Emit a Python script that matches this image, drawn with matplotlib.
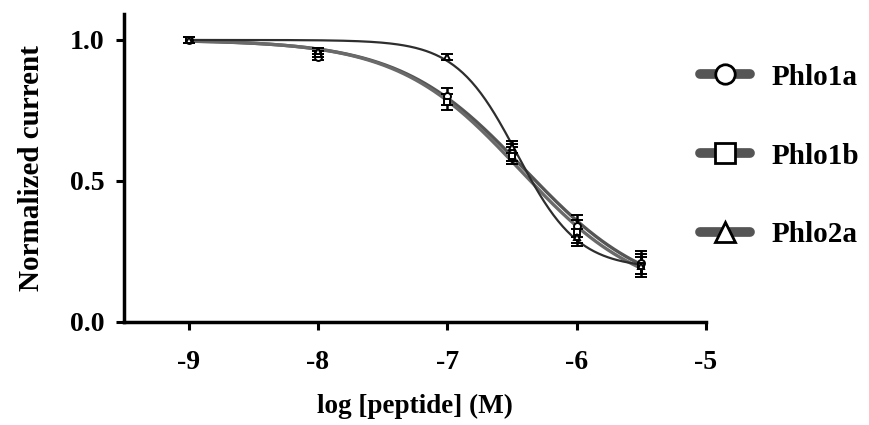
import matplotlib
matplotlib.use("Agg")
import matplotlib.pyplot as plt
from matplotlib.lines import Line2D
import numpy as np

plt.rcParams['font.family'] = ['Liberation Serif', 'DejaVu Serif']
plt.rcParams['font.weight'] = 'bold'

# log concentration (M)
log_conc = np.array([-9.0, -8.0, -7.0, -6.5, -6.0, -5.5])

# normalized current
phlo1a = np.array([1.00, 0.94, 0.80, 0.60, 0.34, 0.21])
phlo1a_err = np.array([0.01, 0.01, 0.03, 0.03, 0.04, 0.04])
phlo1b = np.array([1.00, 0.95, 0.78, 0.59, 0.32, 0.20])
phlo1b_err = np.array([0.01, 0.01, 0.03, 0.03, 0.04, 0.04])
phlo2a = np.array([1.00, 0.96, 0.94, 0.62, 0.30, 0.20])
phlo2a_err = np.array([0.01, 0.01, 0.01, 0.02, 0.03, 0.03])

labels = ['Phlo1a', 'Phlo1b', 'Phlo2a']


def hill(x, bottom, logic50, n, top=1.0):
    return bottom + (top - bottom) / (1 + 10 ** ((x - logic50) * n))


def fit_hill(x, y):
    # crude least-squares by grid search (top fixed at 1)
    b = np.linspace(0, 0.4, 41)
    c = np.linspace(-7.5, -5.0, 126)
    n = np.linspace(0.3, 3.0, 136)
    B, C, N = np.meshgrid(b, c, n, indexing='ij')
    sse = np.zeros_like(B)
    for xi, yi in zip(x, y):
        sse += (hill(xi, B, C, N) - yi) ** 2
    i = np.unravel_index(np.argmin(sse), sse.shape)
    return B[i], C[i], N[i]


x_fit = np.linspace(-9, -5.5, 300)

fig = plt.figure(figsize=(8.7, 4.25), dpi=100)
ax = fig.add_axes([0.1425, 0.2424, 0.669, 0.7246])

series = [
    (phlo1a, phlo1a_err, 'o', '#555555', 2.4),
    (phlo1b, phlo1b_err, 's', '#6a6a6a', 2.4),
    (phlo2a, phlo2a_err, '^', '#2e2e2e', 1.6),
]

for y, e, m, col, lw in series:
    p = fit_hill(log_conc, y)
    ax.plot(x_fit, hill(x_fit, *p), color=col, lw=lw, zorder=2,
            solid_capstyle='round')

for y, e, m, col, lw in series:
    ax.errorbar(log_conc, y, yerr=e, fmt=m, ms=5, mfc='white', mec='black',
                mew=1.4, ecolor='black', elinewidth=1.8, capsize=4,
                capthick=1.8, zorder=3)

ax.set_xlim(-9.5, -5)
ax.set_ylim(0, 1.092)
ax.set_xticks([-9, -8, -7, -6, -5])
ax.set_xticklabels(['-9', '-8', '-7', '-6', '-5'])
ax.set_yticks([0, 0.5, 1.0])
ax.set_yticklabels(['0.0', '0.5', '1.0'])

for s in ['top', 'right']:
    ax.spines[s].set_visible(False)
for s in ['left', 'bottom']:
    ax.spines[s].set_linewidth(2.5)
ax.tick_params(width=2.2, length=6, labelsize=20)
ax.tick_params(axis='x', pad=14)
ax.tick_params(axis='y', pad=8)

ax.set_xlabel('log [peptide] (M)', fontsize=19.5, fontweight='bold', labelpad=14)
ax.set_ylabel('Normalized current', fontsize=21, fontweight='bold', labelpad=18)

handles = [
    Line2D([], [], color='#555555', lw=7, marker=mk, ms=14, mfc='white',
           mec='black', mew=2.0, solid_capstyle='round')
    for mk in ['o', 's', '^']
]
fig.legend(handles, labels, loc='upper left', bbox_to_anchor=(0.775, 0.912),
           frameon=False, handlelength=1.7, handletextpad=0.75,
           labelspacing=1.78, prop={'weight': 'bold', 'size': 21})

fig.savefig('out.png', dpi=100)
